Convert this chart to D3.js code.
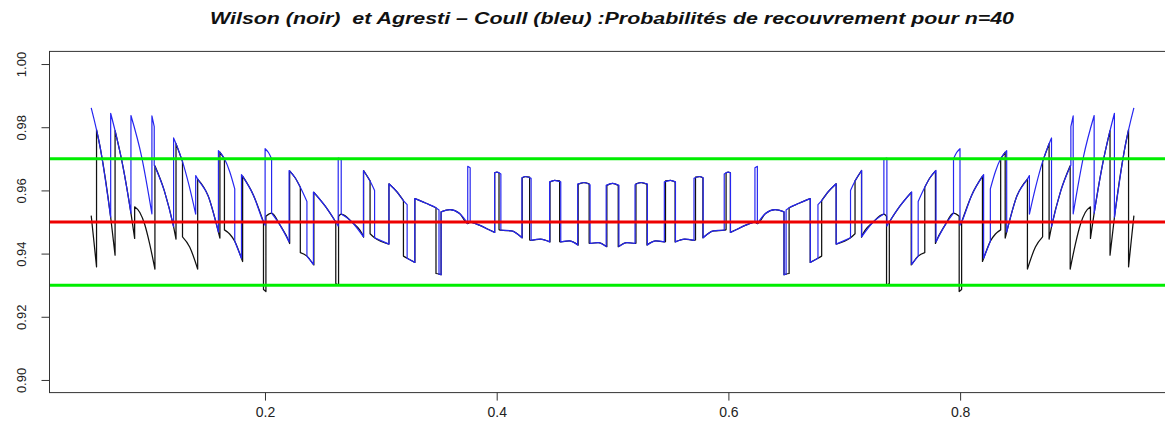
<!DOCTYPE html>
<html><head><meta charset="utf-8">
<script src="https://cdn.jsdelivr.net/npm/d3@7"></script>
<style>body{margin:0;background:#fff;} svg{display:block;}</style>
</head><body>
<svg id="chart" width="1165" height="427"></svg>
<script>
const titleText = "Wilson (noir)  et Agresti \u2013 Coull (bleu) :Probabilités de recouvrement pour n=40";
const xTicks = [0.2, 0.4, 0.6, 0.8];
const yTicks = [0.90, 0.92, 0.94, 0.96, 0.98, 1.00];
const refLevels = [0.97, 0.95, 0.93];
const refColors = ["#00ee00", "#ee0000", "#00ee00"];

// Agresti-Coull coverage (blue), segments between jumps, p < 0.5
const agrestiLeft = [
 [[0.0500,0.9861],[0.0580,0.9731],[0.0668,0.9515]],
 [[0.0668,0.9844],[0.0706,0.9789],[0.0775,0.9674],[0.0843,0.9528]],
 [[0.0843,0.9837],[0.0935,0.9707],[0.1024,0.9526]],
 [[0.1024,0.9836],[0.1044,0.9802]],
 [[0.1044,0.9680],[0.1130,0.9600],[0.1211,0.9485]],
 [[0.1211,0.9766],[0.1232,0.9748],[0.1288,0.9691],[0.1345,0.9615],[0.1402,0.9525]],
 [[0.1402,0.9647],[0.1419,0.9636],[0.1510,0.9582],[0.1598,0.9468]],
 [[0.1598,0.9726],[0.1650,0.9700],[0.1695,0.9660],[0.1739,0.9605]],
 [[0.1739,0.9439],[0.1797,0.9385]],
 [[0.1797,0.9650],[0.1900,0.9585],[0.1987,0.9500],[0.2001,0.9490]],
 [[0.2001,0.9732],[0.2030,0.9720],[0.2057,0.9700]],
 [[0.2057,0.9528],[0.2130,0.9490],[0.2208,0.9437]],
 [[0.2208,0.9663],[0.2260,0.9640],[0.2305,0.9610],[0.2362,0.9565]],
 [[0.2362,0.9392],[0.2418,0.9366]],
 [[0.2418,0.9595],[0.2520,0.9550],[0.2611,0.9500],[0.2632,0.9487]],
 [[0.2632,0.9702],[0.2645,0.9700],[0.2658,0.9696]],
 [[0.2658,0.9525],[0.2750,0.9500],[0.2850,0.9453]],
 [[0.2850,0.9663],[0.2907,0.9630],[0.2946,0.9600]],
 [[0.2946,0.9450],[0.3070,0.9430]],
 [[0.3070,0.9621],[0.3140,0.9595],[0.3195,0.9568],[0.3227,0.9555]],
 [[0.3227,0.9385],[0.3293,0.9372]],
 [[0.3293,0.9574],[0.3385,0.9560],[0.3476,0.9545],[0.3502,0.9538]],
 [[0.3502,0.9335],[0.3520,0.9333]],
 [[0.3520,0.9532],[0.3597,0.9539],[0.3680,0.9527],[0.3750,0.9495]],
 [[0.3750,0.9676],[0.3771,0.9672]],
 [[0.3771,0.9500],[0.3850,0.9490],[0.3920,0.9478],[0.3982,0.9467]],
 [[0.3982,0.9656],[0.4002,0.9658],[0.4036,0.9652]],
 [[0.4036,0.9474],[0.4127,0.9472],[0.4218,0.9450]],
 [[0.4218,0.9640],[0.4250,0.9644],[0.4297,0.9638]],
 [[0.4297,0.9442],[0.4377,0.9446],[0.4457,0.9437]],
 [[0.4457,0.9627],[0.4500,0.9632],[0.4553,0.9627]],
 [[0.4553,0.9437],[0.4626,0.9440],[0.4699,0.9427]],
 [[0.4699,0.9620],[0.4752,0.9625],[0.4806,0.9618]],
 [[0.4806,0.9432],[0.4876,0.9435],[0.4945,0.9422]],
 [[0.4945,0.9616],[0.5000,0.9622],[0.5055,0.9616]]
];
// Agresti-Coull coverage (blue), p > 0.5
const agrestiRight = [
 [[0.5055,0.9422],[0.5124,0.9435],[0.5194,0.9432]],
 [[0.5194,0.9618],[0.5248,0.9625],[0.5301,0.9620]],
 [[0.5301,0.9427],[0.5374,0.9440],[0.5447,0.9437]],
 [[0.5447,0.9627],[0.5500,0.9632],[0.5543,0.9627]],
 [[0.5543,0.9437],[0.5623,0.9446],[0.5703,0.9442]],
 [[0.5703,0.9638],[0.5750,0.9644],[0.5782,0.9640]],
 [[0.5782,0.9450],[0.5873,0.9472],[0.5964,0.9474]],
 [[0.5964,0.9652],[0.5998,0.9658],[0.6018,0.9656]],
 [[0.6018,0.9467],[0.6080,0.9478],[0.6150,0.9490],[0.6229,0.9500]],
 [[0.6229,0.9672],[0.6250,0.9676]],
 [[0.6250,0.9495],[0.6320,0.9527],[0.6403,0.9539],[0.6480,0.9532]],
 [[0.6480,0.9333],[0.6498,0.9335]],
 [[0.6498,0.9538],[0.6524,0.9545],[0.6615,0.9560],[0.6707,0.9574]],
 [[0.6707,0.9372],[0.6773,0.9385]],
 [[0.6773,0.9555],[0.6805,0.9568],[0.6860,0.9595],[0.6930,0.9621]],
 [[0.6930,0.9430],[0.7054,0.9450]],
 [[0.7054,0.9600],[0.7093,0.9630],[0.7150,0.9663]],
 [[0.7150,0.9453],[0.7250,0.9500],[0.7342,0.9525]],
 [[0.7342,0.9696],[0.7355,0.9700],[0.7368,0.9702]],
 [[0.7368,0.9487],[0.7389,0.9500],[0.7480,0.9550],[0.7582,0.9595]],
 [[0.7582,0.9366],[0.7638,0.9392]],
 [[0.7638,0.9565],[0.7695,0.9610],[0.7740,0.9640],[0.7792,0.9663]],
 [[0.7792,0.9437],[0.7870,0.9490],[0.7943,0.9528]],
 [[0.7943,0.9700],[0.7970,0.9720],[0.7999,0.9732]],
 [[0.7999,0.9490],[0.8013,0.9500],[0.8100,0.9585],[0.8203,0.9650]],
 [[0.8203,0.9385],[0.8261,0.9439]],
 [[0.8261,0.9605],[0.8305,0.9660],[0.8350,0.9700],[0.8402,0.9726]],
 [[0.8402,0.9468],[0.8490,0.9582],[0.8581,0.9636],[0.8598,0.9647]],
 [[0.8598,0.9525],[0.8655,0.9615],[0.8712,0.9691],[0.8768,0.9748],[0.8789,0.9766]],
 [[0.8789,0.9485],[0.8870,0.9600],[0.8956,0.9680]],
 [[0.8956,0.9802],[0.8976,0.9836]],
 [[0.8976,0.9526],[0.9065,0.9707],[0.9157,0.9837]],
 [[0.9157,0.9528],[0.9225,0.9674],[0.9294,0.9789],[0.9332,0.9844]],
 [[0.9332,0.9515],[0.9420,0.9731],[0.9500,0.9861]]
];
// Wilson coverage (black), p < 0.5
const wilsonLeft = [
 [[0.0500,0.9520],[0.0523,0.9440],[0.0546,0.9358]],
 [[0.0546,0.9792],[0.0580,0.9731],[0.0668,0.9515],[0.0706,0.9395]],
 [[0.0706,0.9789],[0.0775,0.9674],[0.0843,0.9528],[0.0875,0.9448]],
 [[0.0875,0.9548],[0.0920,0.9530],[0.0962,0.9492],[0.1005,0.9430],[0.1050,0.9351]],
 [[0.1050,0.9678],[0.1130,0.9600],[0.1211,0.9485],[0.1232,0.9446]],
 [[0.1232,0.9748],[0.1288,0.9691]],
 [[0.1288,0.9453],[0.1350,0.9421],[0.1419,0.9351]],
 [[0.1419,0.9636],[0.1510,0.9582],[0.1598,0.9468],[0.1611,0.9449]],
 [[0.1611,0.9721],[0.1650,0.9700]],
 [[0.1650,0.9475],[0.1695,0.9462],[0.1739,0.9439],[0.1797,0.9385],[0.1807,0.9375]],
 [[0.1807,0.9645],[0.1900,0.9585],[0.1987,0.9500]],
 [[0.1987,0.9286],[0.2008,0.9280]],
 [[0.2008,0.9518],[0.2057,0.9528],[0.2130,0.9490],[0.2208,0.9437],[0.2213,0.9432]],
 [[0.2213,0.9662],[0.2260,0.9640],[0.2305,0.9610]],
 [[0.2305,0.9403],[0.2362,0.9392],[0.2418,0.9366],[0.2422,0.9364]],
 [[0.2422,0.9594],[0.2520,0.9550],[0.2611,0.9500]],
 [[0.2611,0.9305],[0.2635,0.9300]],
 [[0.2635,0.9518],[0.2658,0.9525],[0.2750,0.9500],[0.2850,0.9453],[0.2851,0.9452]],
 [[0.2851,0.9663],[0.2907,0.9630]],
 [[0.2907,0.9463],[0.2946,0.9450],[0.3070,0.9430]],
 [[0.3070,0.9621],[0.3140,0.9595],[0.3195,0.9568]],
 [[0.3195,0.9392],[0.3227,0.9385],[0.3294,0.9372]],
 [[0.3294,0.9574],[0.3385,0.9560],[0.3476,0.9545]],
 [[0.3476,0.9337],[0.3502,0.9335],[0.3520,0.9333]],
 [[0.3520,0.9532],[0.3597,0.9539],[0.3680,0.9527],[0.3750,0.9495],[0.3771,0.9500],[0.3850,0.9490],[0.3920,0.9478],[0.3983,0.9467]],
 [[0.3983,0.9656],[0.4002,0.9658],[0.4020,0.9656]],
 [[0.4020,0.9476],[0.4036,0.9474],[0.4127,0.9472],[0.4220,0.9450]],
 [[0.4220,0.9640],[0.4250,0.9644],[0.4284,0.9642]],
 [[0.4284,0.9443],[0.4297,0.9442],[0.4377,0.9446],[0.4460,0.9437]],
 [[0.4460,0.9627],[0.4500,0.9632],[0.4543,0.9630]],
 [[0.4543,0.9438],[0.4553,0.9437],[0.4626,0.9440],[0.4703,0.9427]],
 [[0.4703,0.9620],[0.4752,0.9625],[0.4798,0.9621]],
 [[0.4798,0.9433],[0.4806,0.9432],[0.4876,0.9435],[0.4951,0.9422]],
 [[0.4951,0.9616],[0.5000,0.9622],[0.5049,0.9616]]
];
// Wilson coverage (black), p > 0.5
const wilsonRight = [
 [[0.5049,0.9422],[0.5124,0.9435],[0.5194,0.9432],[0.5202,0.9433]],
 [[0.5202,0.9621],[0.5248,0.9625],[0.5297,0.9620]],
 [[0.5297,0.9427],[0.5374,0.9440],[0.5447,0.9437],[0.5457,0.9438]],
 [[0.5457,0.9630],[0.5500,0.9632],[0.5540,0.9627]],
 [[0.5540,0.9437],[0.5623,0.9446],[0.5703,0.9442],[0.5716,0.9443]],
 [[0.5716,0.9642],[0.5750,0.9644],[0.5780,0.9640]],
 [[0.5780,0.9450],[0.5873,0.9472],[0.5964,0.9474],[0.5980,0.9476]],
 [[0.5980,0.9656],[0.5998,0.9658],[0.6017,0.9656]],
 [[0.6017,0.9467],[0.6080,0.9478],[0.6150,0.9490],[0.6229,0.9500],[0.6250,0.9495],[0.6320,0.9527],[0.6403,0.9539],[0.6480,0.9532]],
 [[0.6480,0.9333],[0.6498,0.9335],[0.6524,0.9337]],
 [[0.6524,0.9545],[0.6615,0.9560],[0.6706,0.9574]],
 [[0.6706,0.9372],[0.6773,0.9385],[0.6805,0.9392]],
 [[0.6805,0.9568],[0.6860,0.9595],[0.6930,0.9621]],
 [[0.6930,0.9430],[0.7054,0.9450],[0.7093,0.9463]],
 [[0.7093,0.9630],[0.7149,0.9663]],
 [[0.7149,0.9452],[0.7150,0.9453],[0.7250,0.9500],[0.7342,0.9525],[0.7365,0.9518]],
 [[0.7365,0.9300],[0.7389,0.9305]],
 [[0.7389,0.9500],[0.7480,0.9550],[0.7578,0.9594]],
 [[0.7578,0.9364],[0.7582,0.9366],[0.7638,0.9392],[0.7695,0.9403]],
 [[0.7695,0.9610],[0.7740,0.9640],[0.7787,0.9662]],
 [[0.7787,0.9432],[0.7792,0.9437],[0.7870,0.9490],[0.7943,0.9528],[0.7992,0.9518]],
 [[0.7992,0.9280],[0.8013,0.9286]],
 [[0.8013,0.9500],[0.8100,0.9585],[0.8193,0.9645]],
 [[0.8193,0.9375],[0.8203,0.9385],[0.8261,0.9439],[0.8305,0.9462],[0.8350,0.9475]],
 [[0.8350,0.9700],[0.8389,0.9721]],
 [[0.8389,0.9449],[0.8402,0.9468],[0.8490,0.9582],[0.8581,0.9636]],
 [[0.8581,0.9351],[0.8650,0.9421],[0.8712,0.9453]],
 [[0.8712,0.9691],[0.8768,0.9748]],
 [[0.8768,0.9446],[0.8789,0.9485],[0.8870,0.9600],[0.8950,0.9678]],
 [[0.8950,0.9351],[0.8995,0.9430],[0.9038,0.9492],[0.9080,0.9530],[0.9125,0.9548]],
 [[0.9125,0.9448],[0.9157,0.9528],[0.9225,0.9674],[0.9294,0.9789]],
 [[0.9294,0.9395],[0.9332,0.9515],[0.9420,0.9731],[0.9454,0.9792]],
 [[0.9454,0.9358],[0.9477,0.9440],[0.9500,0.9520]]
];

const svg = d3.select("#chart");
const x = d3.scaleLinear().domain([0.014, 0.986]).range([49.5, 1175.6]);
const y = d3.scaleLinear().domain([0.896, 1.004]).range([392.6, 51.4]);
const [x0, x1] = x.range();
const [yb, yt] = y.range();

svg.append("defs").append("clipPath").attr("id", "plotclip")
  .append("rect").attr("x", x0).attr("y", yt).attr("width", x1 - x0).attr("height", yb - yt);

const seg = d3.line().x(d => x(d[0])).y(d => y(d[1])).curve(d3.curveMonotoneX);
function seriesPath(segs) {
  return segs.map((s, i) => { const p = seg(s); return i === 0 ? p : "L" + p.slice(1); }).join("");
}

const plot = svg.append("g").attr("clip-path", "url(#plotclip)");
plot.append("path").attr("d", seriesPath(wilsonLeft.concat(wilsonRight)))
  .attr("fill", "none").attr("stroke", "#111").attr("stroke-width", 1.25).attr("stroke-linejoin", "round");
plot.append("path").attr("d", seriesPath(agrestiLeft.concat(agrestiRight)))
  .attr("fill", "none").attr("stroke", "#2626f0").attr("stroke-width", 1.2).attr("stroke-linejoin", "round");

plot.selectAll("line.ref").data(refLevels).enter().append("line")
  .attr("class", "ref")
  .attr("x1", x0).attr("x2", x1)
  .attr("y1", d => y(d)).attr("y2", d => y(d))
  .attr("stroke", (d, i) => refColors[i]).attr("stroke-width", 3);

// box
svg.append("rect").attr("x", x0).attr("y", yt).attr("width", x1 - x0).attr("height", yb - yt)
  .attr("fill", "none").attr("stroke", "#333").attr("stroke-width", 1);

// axes
const gx = svg.append("g").attr("transform", `translate(0,${yb})`)
  .call(d3.axisBottom(x).tickValues(xTicks).tickFormat(d3.format(".1f")).tickSize(8).tickPadding(6));
gx.select(".domain").remove();
gx.selectAll("line").attr("stroke", "#333");
gx.selectAll("text").attr("font-family", "Liberation Sans, Arial, sans-serif").attr("font-size", 14).attr("fill", "#222");

const gy = svg.append("g").attr("transform", `translate(${x0},0)`)
  .call(d3.axisLeft(y).tickValues(yTicks).tickFormat(d3.format(".2f")).tickSize(8));
gy.select(".domain").remove();
gy.selectAll("line").attr("stroke", "#333");
gy.selectAll("text")
  .attr("font-family", "Liberation Sans, Arial, sans-serif").attr("font-size", 13).attr("fill", "#222")
  .attr("x", 0).attr("y", -24).attr("dy", 0)
  .attr("text-anchor", "middle").attr("transform", "rotate(-90)");

svg.append("text").attr("x", 612).attr("y", 24)
  .attr("text-anchor", "middle")
  .attr("font-family", "Liberation Sans, Arial, sans-serif")
  .attr("font-size", 16).attr("font-weight", "bold").attr("font-style", "italic")
  .attr("fill", "#111")
  .style("white-space", "pre")
  .attr("textLength", 804).attr("lengthAdjust", "spacingAndGlyphs")
  .text(titleText);
</script>
</body></html>
